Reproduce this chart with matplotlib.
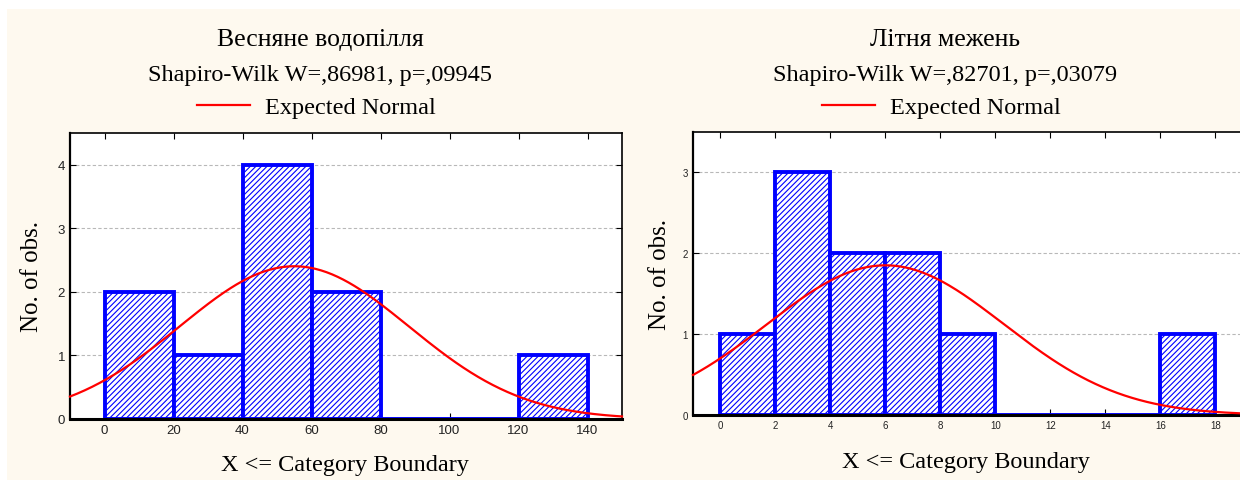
import matplotlib
matplotlib.use("Agg")
import matplotlib.pyplot as plt
import numpy as np
from matplotlib.lines import Line2D
from matplotlib.patches import Rectangle

# Spring flood histogram
spring_edges = [0, 20, 40, 60, 80, 100, 120, 140]
spring_counts = [2, 1, 4, 2, 0, 0, 1]
spring_mean, spring_sd, spring_n = 55.0, 33.2, 10
spring_title = "Весняне водопілля"
spring_test = "Shapiro-Wilk W=,86981, p=,09945"

# Summer low water histogram
summer_edges = [0, 2, 4, 6, 8, 10, 12, 14, 16, 18]
summer_counts = [1, 3, 2, 2, 1, 0, 0, 0, 1]
summer_mean, summer_sd, summer_n = 6.0, 4.31, 10
summer_title = "Літня межень"
summer_test = "Shapiro-Wilk W=,82701, p=,03079"

bg = "#fef9ef"
serif = "Liberation Serif"
sans = "Liberation Sans"
plt.rcParams["hatch.color"] = "#2a2aff"
plt.rcParams["hatch.linewidth"] = 0.8

fig = plt.figure(figsize=(12.4, 4.81), dpi=100, facecolor=bg)
fig.patches.append(Rectangle((0, 1 - 10 / 481), 1, 10 / 481, transform=fig.transFigure,
                             facecolor="white", edgecolor="none", zorder=-1))
fig.patches.append(Rectangle((0, 0), 7 / 1240, 1, transform=fig.transFigure,
                             facecolor="white", edgecolor="none", zorder=-1))


def panel(rect, edges, counts, mean, sd, n, xlim, ylim, xticks, yticks, tick_size, hide_right):
    ax = fig.add_axes(rect)
    ax.set_facecolor("white")
    edges = np.array(edges)
    width = edges[1] - edges[0]
    ax.bar(edges[:-1], counts, width=width, align="edge", facecolor="white",
           edgecolor="blue", linewidth=2.8, hatch="//////", zorder=2)
    xs = np.linspace(xlim[0], xlim[1], 300)
    ys = n * width * np.exp(-0.5 * ((xs - mean) / sd) ** 2) / (sd * np.sqrt(2 * np.pi))
    ax.plot(xs, ys, color="red", linewidth=1.6, zorder=3, clip_on=False)
    ax.set_xlim(*xlim)
    ax.set_ylim(*ylim)
    ax.set_xticks(xticks)
    ax.set_yticks(yticks)
    ax.grid(axis="y", color="#b8b8b8", linestyle=(0, (3, 2)), linewidth=0.8, zorder=0)
    ax.tick_params(direction="in", top=True, right=not hide_right, length=4,
                   labelsize=tick_size, labelfontfamily=sans, labelcolor="#222222")
    for s in ax.spines.values():
        s.set_linewidth(1.2)
    ax.spines["bottom"].set_linewidth(2.2)
    ax.spines["left"].set_linewidth(1.6)
    if hide_right:
        ax.spines["right"].set_visible(False)
    return ax


ax1 = panel([70 / 1240, 1 - 420 / 481, 552 / 1240, 286 / 481],
            spring_edges, spring_counts, spring_mean, spring_sd, spring_n,
            (-10, 150), (0, 4.5), range(0, 141, 20), range(0, 5), 9.5, False)
ax2 = panel([693 / 1240, 1 - 416 / 481, 547 / 1240, 283 / 481],
            summer_edges, summer_counts, summer_mean, summer_sd, summer_n,
            (-1, 18.9), (0, 3.5), range(0, 19, 2), range(0, 4), 7, True)

for cx, title, test, xl_x, xl_y, yl_x, yl_y in [
        (320, spring_title, spring_test, 345, 466, 32, 277),
        (945, summer_title, summer_test, 966, 463, 660, 275)]:
    fig.text(cx / 1240, 1 - 40 / 481, title, ha="center", va="center", family=serif, fontsize=18.5)
    fig.text(cx / 1240, 1 - 75 / 481, test, ha="center", va="center", family=serif, fontsize=17.5)
    fig.legend([Line2D([], [], color="red", linewidth=1.6)], ["Expected Normal"],
               loc="center", bbox_to_anchor=((cx - 4) / 1240, 1 - 108 / 481), frameon=False,
               prop={"family": serif, "size": 17.5}, handlelength=2.2, handletextpad=0.6)
    fig.text(xl_x / 1240, 1 - xl_y / 481, "X <= Category Boundary", ha="center", va="center",
             family=serif, fontsize=17.5)
    fig.text(yl_x / 1240, 1 - yl_y / 481, "No. of obs.", ha="center", va="center",
             rotation=90, family=serif, fontsize=18)

fig.savefig("out.png", dpi=100, facecolor=bg)
